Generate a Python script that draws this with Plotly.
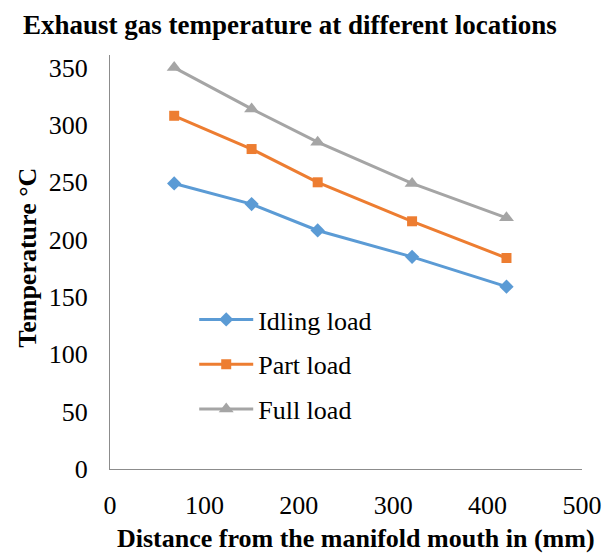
import plotly.graph_objects as go

distance_mm = [68, 150, 220, 320, 420]
idling_load = [249, 231, 208, 185, 159]
part_load = [308, 279, 250, 216, 184]
full_load = [350, 314, 285, 249, 219]
x_ticks = [0, 100, 200, 300, 400, 500]
y_ticks = [0, 50, 100, 150, 200, 250, 300, 350]

series = [
    ("Idling load", idling_load, "#5B9BD5", "diamond", 11),
    ("Part load", part_load, "#ED7D31", "square", 10),
    ("Full load", full_load, "#A5A5A5", "triangle-up", 13),
]

FONT = "Liberation Serif, Times New Roman, serif"

fig = go.Figure()
for name, vals, color, sym, size in series:
    fig.add_trace(go.Scatter(
        x=distance_mm, y=vals, name=name, mode="lines+markers",
        legendgroup=name,
        line=dict(color=color, width=3),
        marker=dict(symbol=sym, size=size, color=color),
    ))

# page geometry (figure sits 8px inside the page)
PL, PR, PT, PB = 110, 592, 55, 469
W, H = PR - PL, PB - PT


def px(x):
    return (x - PL) / W


def py(y):
    return (PB - y) / H


fig.update_layout(
    width=606, height=545,
    margin=dict(l=PL - 8, r=614 - PR, t=PT - 8, b=553 - PB),
    paper_bgcolor="white", plot_bgcolor="white",
    font=dict(family=FONT, size=26, color="#000"),
    showlegend=True,
    legend=dict(x=px(196), y=py(296), xanchor="left", yanchor="top",
                font=dict(family=FONT, size=26, color="#000"),
                bgcolor="rgba(0,0,0,0)", itemwidth=54,
                traceorder="grouped", tracegroupgap=8),
    annotations=[
        dict(text="<b>Exhaust gas temperature at different locations</b>",
             xref="paper", yref="paper", x=px(294), y=py(8),
             xanchor="center", yanchor="top", showarrow=False,
             font=dict(family=FONT, size=27, color="#000")),
        dict(text="<b>Distance from the manifold mouth in (mm)</b>",
             xref="paper", yref="paper", x=px(361), y=py(538),
             xanchor="center", yanchor="middle", showarrow=False,
             font=dict(family=FONT, size=26, color="#000")),
        dict(text="<b>Temperature °C</b>", textangle=-90,
             xref="paper", yref="paper", x=px(26), y=py(258),
             xanchor="center", yanchor="middle", showarrow=False,
             font=dict(family=FONT, size=26, color="#000")),
    ],
)
fig.update_xaxes(range=[0, 500], tickvals=x_ticks,
                 showgrid=False, zeroline=False, showline=True,
                 linecolor="#8c8c8c", linewidth=1, ticks="",
                 ticklabelstandoff=13,
                 tickfont=dict(family=FONT, size=26, color="#000"))
fig.update_yaxes(range=[0, 361], tickvals=y_ticks,
                 showgrid=False, zeroline=False, showline=True,
                 linecolor="#8c8c8c", linewidth=1, ticks="",
                 ticklabelstandoff=16,
                 tickfont=dict(family=FONT, size=26, color="#000"))

fig.write_html("out.html")
